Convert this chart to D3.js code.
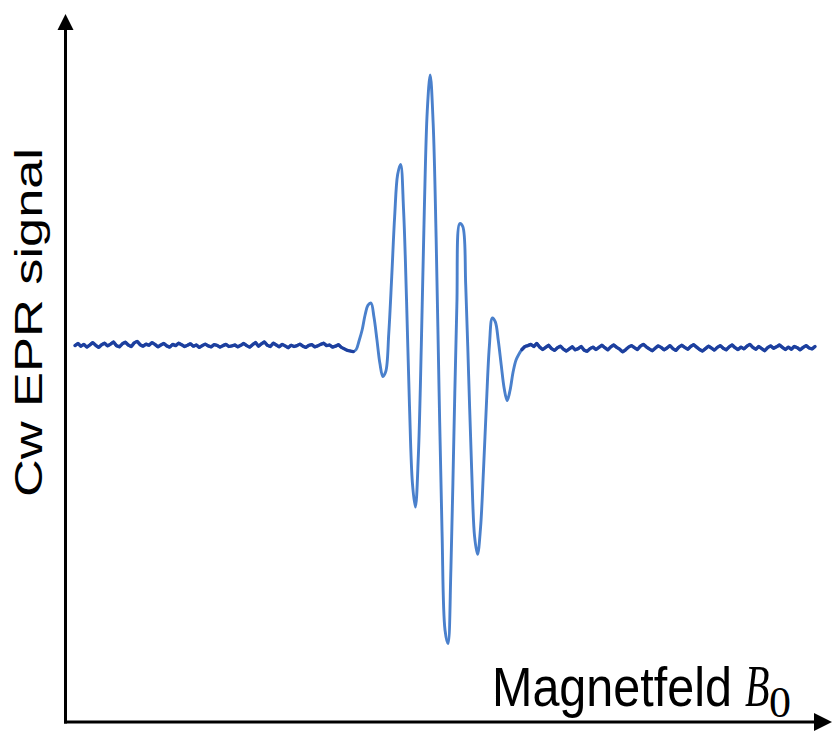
<!DOCTYPE html>
<html><head><meta charset="utf-8">
<script src="https://cdn.jsdelivr.net/npm/d3@7"></script>
<style>html,body{margin:0;padding:0;background:#fff}</style>
</head><body>
<svg id="chart" width="832" height="732"></svg>
<script>
// Field sampling grid (Gauss) and signal values
const fieldStep = 0.4;
const leftStart = 3350.0;
const leftSignal = [0.8,1.5,0.6,1.2,0.3,1.0,1.8,0.9,0.2,1.1,
 1.6,0.7,1.3,2.0,0.8,0.4,1.4,1.9,1.0,0.5,
 1.7,2.2,1.1,0.6,1.3,0.9,1.8,1.2,0.4,1.0,
 1.5,0.7,0.3,1.2,0.8,1.6,1.1,0.5,0.9,1.4,
 0.6,1.0,0.2,0.8,1.3,0.7,0.4,1.1,0.9,0.3,
 0.8,1.2,0.5,0.7,1.0,0.4,0.9,1.5,0.8,0.3,
 1.1,1.8,0.6,1.4,2.0,0.9,0.5,1.6,1.0,0.4,
 1.2,0.7,0.1,0.9,0.5,0.8,1.3,0.6,0.2,0.9,
 1.1,0.4,0.7,1.2,1.6,0.8,1.0,0.3,0.6,1.1,
 0.2,-0.3,-0.8,-1.0];
const peakStart = 3387.6;
const peakSignal = [-1.2,-0.5,2.5,6.0,11.0,14.3,15.0,10.3,2.8,-5.1,
 -9.5,-7.8,4.8,23.7,44.0,57.8,61.2,46.1,16.2,-19.2,
 -45.1,-53.0,-35.8,0.9,45.4,78.9,91.0,74.9,36.9,-14.5,
 -61.3,-94.0,-98.5,-73.5,-29.4,14.0,41.5,40.5,21.0,-9.5,
 -40.3,-62.9,-68.8,-60.0,-40.8,-18.6,0.8,10.0,8.7,2.5,
 -5.7,-13.5,-17.5,-14.0,-8.0,-4.0,-2.0,-0.5,0.5,0.8];
const rightStart = 3411.6;
const rightSignal = [1.2,0.5,1.5,0.3,-0.5,0.2,0.9,-0.2,-0.8,0.1,
 0.6,-0.4,-1.0,-0.3,0.4,-0.6,-0.2,0.5,-0.7,-1.1,
 -0.2,0.3,-0.5,0.2,0.9,0.1,-0.6,0.4,1.0,0.2,
 -0.4,-1.3,-0.6,0.3,0.8,0.1,-0.5,0.6,1.2,0.4,
 -0.3,-0.9,-0.1,0.7,0.2,-0.6,0.0,0.8,-0.2,-0.8,
 0.3,0.9,0.2,-0.4,0.5,1.1,0.3,-0.5,-1.0,-0.2,
 0.6,0.0,-0.7,0.2,0.8,-0.1,-0.6,0.4,1.0,0.1,
 -0.5,0.3,-0.3,0.6,1.2,0.2,-0.4,0.5,-0.2,-0.9,
 0.1,0.7,-0.1,0.4,1.0,0.2,-0.5,0.3,-0.4,0.5,
 0.1,-0.6,0.2,0.8,0.0,-0.3,0.5];
const fieldDomain = [3350, 3450];
const signalDomain = [-100, 100];
const xLabelText = "Magnetfeld";
const xLabelSymbol = "B";
const xLabelSub = "0";
const yLabelText = "Cw EPR signal";

const toPoints = (s, arr) => arr.map((v, i) => ({b: s + i * fieldStep, v}));
const leftPts = toPoints(leftStart, leftSignal);
const peakPts = toPoints(peakStart, peakSignal);
const rightPts = toPoints(rightStart, rightSignal);
const points = leftPts.concat(peakPts, rightPts);

const svg = d3.select("#chart");
const x = d3.scaleLinear().domain(fieldDomain).range([75, 815]);
const y = d3.scaleLinear().domain(signalDomain).range([648, 48]);

// spectrum (smooth hyperfine lines)
const line = d3.line().x(d => x(d.b)).y(d => y(d.v)).curve(d3.curveCatmullRom.alpha(0.5));
svg.append("path").datum(points)
  .attr("d", line)
  .attr("fill", "none")
  .attr("stroke", "#4a80cc")
  .attr("stroke-width", 2.9)
  .attr("stroke-linejoin", "round");

// noisy baseline drawn darker, as in the reference
const noisy = d3.line().x(d => x(d.b)).y(d => y(d.v));
[leftPts.concat(peakPts.slice(0, 1)), peakPts.slice(-3).concat(rightPts)].forEach(seg => {
  svg.append("path").datum(seg)
    .attr("d", noisy)
    .attr("fill", "none")
    .attr("stroke", "#1d3f9e")
    .attr("stroke-width", 3.3)
    .attr("stroke-linejoin", "round")
    .attr("stroke-linecap", "round");
});

// axes with arrows
const ax = 65.5, ay = 722;
svg.append("line").attr("x1", ax).attr("y1", ay + 1.5).attr("x2", ax).attr("y2", 29)
  .attr("stroke", "#000").attr("stroke-width", 3);
svg.append("path").attr("d", `M${ax-8},30 L${ax+8},30 L${ax},14 Z`).attr("fill", "#000");
svg.append("line").attr("x1", ax - 1.5).attr("y1", ay).attr("x2", 815).attr("y2", ay)
  .attr("stroke", "#000").attr("stroke-width", 3);
svg.append("path").attr("d", `M814,${ay-9} L814,${ay+9} L832,${ay} Z`).attr("fill", "#000");

// y label
svg.append("text")
  .attr("transform", "translate(42,497) rotate(-90)")
  .attr("font-family", "Liberation Sans, Arial, sans-serif")
  .attr("font-size", 38)
  .attr("textLength", 349)
  .attr("lengthAdjust", "spacingAndGlyphs")
  .attr("fill", "#000")
  .text(yLabelText);

// x label: "Magnetfeld B0"
svg.append("text")
  .attr("transform", "translate(492,706) scale(1,1.14)")
  .attr("font-family", "Liberation Sans, Arial, sans-serif")
  .attr("font-size", 48.5)
  .attr("fill", "#000")
  .text(xLabelText);
svg.append("text")
  .attr("transform", "translate(745,706) scale(1,1.5)")
  .attr("font-family", "Liberation Serif, serif")
  .attr("font-style", "italic")
  .attr("font-size", 40)
  .attr("fill", "#000")
  .text(xLabelSymbol);
svg.append("text")
  .attr("transform", "translate(769,717)")
  .attr("font-family", "Liberation Serif, serif")
  .attr("font-size", 44)
  .attr("fill", "#000")
  .text(xLabelSub);
</script>
</body></html>
